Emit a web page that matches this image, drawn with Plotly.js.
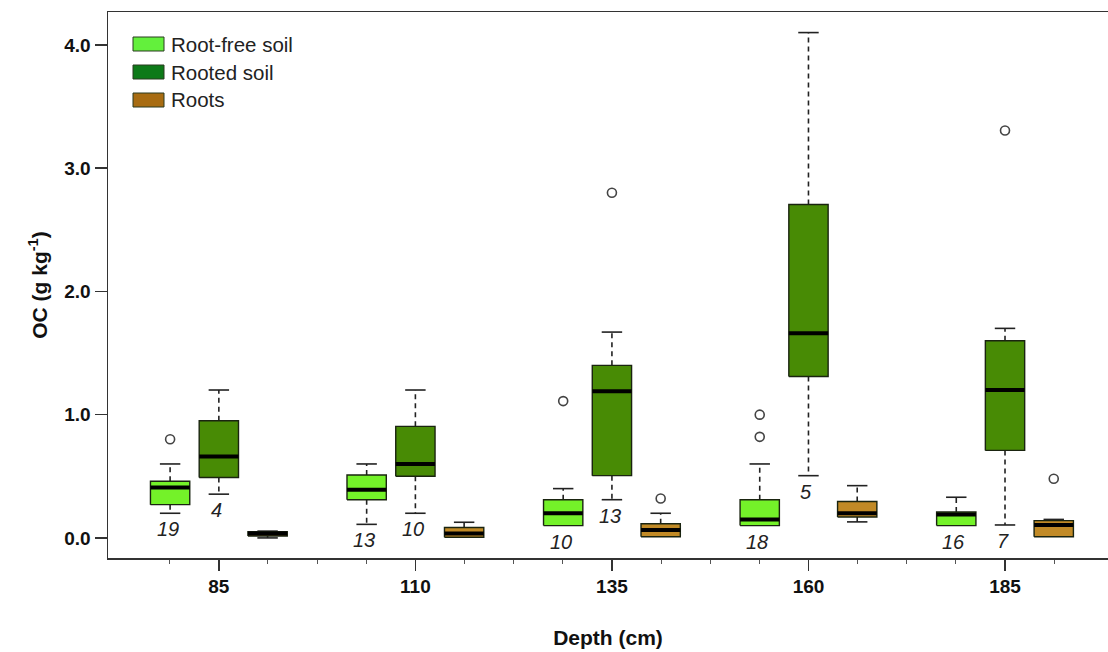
<!DOCTYPE html>
<html>
<head>
<meta charset="utf-8">
<script src="https://cdn.plot.ly/plotly-3.0.1.min.js"></script>
<style>html,body{margin:0;padding:0;background:#fff;}#chart{width:1108px;height:652px;}</style>
</head>
<body>
<div id="chart"></div>
<script>
// ---- data ----
const depths = [85, 110, 135, 160, 185];
const seriesNames = ["Root-free soil", "Rooted soil", "Roots"];

const rootFreeLower  = [0.20, 0.11, 0.10, 0.10, 0.10];
const rootFreeQ1     = [0.27, 0.31, 0.10, 0.10, 0.10];
const rootFreeMedian = [0.41, 0.39, 0.20, 0.15, 0.19];
const rootFreeQ3     = [0.46, 0.51, 0.31, 0.31, 0.21];
const rootFreeUpper  = [0.60, 0.60, 0.40, 0.60, 0.33];
const rootFreeOutliers = [[0.80], [], [1.11], [1.00, 0.82], []];
const rootFreeN = [19, 13, 10, 18, 16];

const rootedLower  = [0.355, 0.20, 0.31, 0.505, 0.105];
const rootedQ1     = [0.49, 0.50, 0.505, 1.31, 0.71];
const rootedMedian = [0.66, 0.60, 1.19, 1.66, 1.20];
const rootedQ3     = [0.95, 0.905, 1.40, 2.705, 1.60];
const rootedUpper  = [1.20, 1.20, 1.67, 4.10, 1.70];
const rootedOutliers = [[], [], [2.80], [], [3.305]];
const rootedN = [4, 10, 13, 5, 7];

const rootsLower  = [0.00, 0.005, 0.01, 0.13, 0.01];
const rootsQ1     = [0.015, 0.005, 0.01, 0.17, 0.01];
const rootsMedian = [0.035, 0.035, 0.065, 0.20, 0.105];
const rootsQ3     = [0.05, 0.085, 0.115, 0.295, 0.14];
const rootsUpper  = [0.055, 0.127, 0.20, 0.424, 0.15];
const rootsOutliers = [[], [], [0.32], [], [0.48]];

const yTickVals = [0, 1, 2, 3, 4];
const xTickVals = [85, 110, 135, 160, 185];
const xMinorTickVals = [78.75, 91.25, 97.5, 103.75, 116.25, 122.5, 128.75, 141.25, 147.5, 153.75,
  166.25, 172.5, 178.75, 191.25];

// ---- styles ----
const boxFill   = ["#74f229", "#488b05", "#c18a26"];
const legendFill = ["#63f03c", "#0d7a18", "#a86c12"];
const offsets = [-6.2, 0, 6.2];
const halfW = 2.5;
const capHalf = 1.3;
const FONT = 'Liberation Sans, Arial, sans-serif';

const seriesData = [
  {lower: rootFreeLower, q1: rootFreeQ1, med: rootFreeMedian, q3: rootFreeQ3, upper: rootFreeUpper, out: rootFreeOutliers, n: rootFreeN},
  {lower: rootedLower, q1: rootedQ1, med: rootedMedian, q3: rootedQ3, upper: rootedUpper, out: rootedOutliers, n: rootedN},
  {lower: rootsLower, q1: rootsQ1, med: rootsMedian, q3: rootsQ3, upper: rootsUpper, out: rootsOutliers, n: null}
];

const traces = [];
const annotations = [];
const shapes = [];

seriesData.forEach((s, si) => {
  const bx = [], by = [], mx = [], my = [], wx = [], wy = [], cx = [], cy = [], ox = [], oy = [];
  depths.forEach((d, i) => {
    const c = d + offsets[si];
    if (s.upper[i] > s.q3[i]) { wx.push(c, c, null); wy.push(s.q3[i], s.upper[i], null);
      cx.push(c - capHalf, c + capHalf, null); cy.push(s.upper[i], s.upper[i], null); }
    if (s.lower[i] < s.q1[i]) { wx.push(c, c, null); wy.push(s.q1[i], s.lower[i], null);
      cx.push(c - capHalf, c + capHalf, null); cy.push(s.lower[i], s.lower[i], null); }
    bx.push(c - halfW, c + halfW, c + halfW, c - halfW, c - halfW, null);
    by.push(s.q1[i], s.q1[i], s.q3[i], s.q3[i], s.q1[i], null);
    mx.push(c - halfW, c + halfW, null); my.push(s.med[i], s.med[i], null);
    s.out[i].forEach(v => { ox.push(c); oy.push(v); });
    if (s.n) {
      annotations.push({x: c - 0.3, y: s.lower[i], xref: 'x', yref: 'y', text: String(s.n[i]),
        showarrow: false, yanchor: 'middle', yshift: -16,
        font: {family: FONT, size: 20, color: '#222', style: 'italic'}});
    }
  });
  traces.push({x: wx, y: wy, mode: 'lines', type: 'scatter', showlegend: false, hoverinfo: 'skip',
    line: {color: '#222', width: 1.6, dash: '5px,4px'}});
  traces.push({x: cx, y: cy, mode: 'lines', type: 'scatter', showlegend: false, hoverinfo: 'skip',
    line: {color: '#222', width: 1.6}});
  traces.push({x: bx, y: by, mode: 'lines', type: 'scatter', fill: 'toself', fillcolor: boxFill[si],
    showlegend: false, name: seriesNames[si], line: {color: '#1a2410', width: 1.4}});
  traces.push({x: mx, y: my, mode: 'lines', type: 'scatter', showlegend: false, hoverinfo: 'skip',
    line: {color: '#000', width: 4}});
  traces.push({x: ox, y: oy, mode: 'markers', type: 'scatter', showlegend: false,
    marker: {symbol: 'circle-open', size: 9, color: '#444', line: {width: 1.6, color: '#444'}}});
});

// manual legend (paper coords)
const W = 1108, H = 652, ml = 108, mr = 0, mt = 12, mb = 94;
const pw = W - ml - mr, ph = H - mt - mb;
function px2paperX(p) { return (p - ml) / pw; }
function px2paperY(p) { return 1 - (p - mt) / ph; }
seriesNames.forEach((name, si) => {
  const cyPx = 44 + si * 28;
  shapes.push({type: 'rect', xref: 'paper', yref: 'paper',
    x0: px2paperX(133), x1: px2paperX(164), y0: px2paperY(cyPx - 7), y1: px2paperY(cyPx + 7),
    fillcolor: legendFill[si], line: {color: '#2a3a20', width: 1}});
  annotations.push({xref: 'paper', yref: 'paper', x: px2paperX(169), y: px2paperY(cyPx),
    xanchor: 'left', yanchor: 'middle', text: name, showarrow: false,
    font: {family: FONT, size: 20.5, color: '#222'}});
});

const layout = {
  width: W, height: H,
  margin: {l: ml, r: mr, t: mt, b: mb},
  paper_bgcolor: '#fff', plot_bgcolor: '#fff',
  showlegend: false,
  font: {family: FONT, color: '#111'},
  xaxis: {
    range: [70.9, 198.1], showgrid: false, zeroline: false,
    showline: true, linecolor: '#333', linewidth: 1.5, mirror: true,
    tickmode: 'array', tickvals: xTickVals, ticktext: xTickVals.map(String),
    ticks: 'outside', ticklen: 11, tickwidth: 1.5, tickcolor: '#333',
    tickfont: {size: 19, color: '#111', weight: 'bold'},
    minor: {tickmode: 'array', tickvals: xMinorTickVals, ticks: 'outside', ticklen: 4, tickwidth: 1, tickcolor: '#555', showgrid: false},
    title: {text: '<b>Depth (cm)</b>', font: {size: 21, color: '#111'}, standoff: 34}
  },
  yaxis: {
    range: [-0.163, 4.267], showgrid: false, zeroline: false,
    showline: true, linecolor: '#333', linewidth: 1.5,
    tickmode: 'array', tickvals: yTickVals, ticktext: yTickVals.map(v => v.toFixed(1)),
    ticks: 'outside', ticklen: 12, tickwidth: 1.5, tickcolor: '#333',
    tickfont: {size: 19, color: '#111', weight: 'bold'},
    title: {text: '<b>OC (g kg<sup>-1</sup>)</b>', font: {size: 21, color: '#111'}, standoff: 11}
  },
  annotations: annotations,
  shapes: shapes
};

Plotly.newPlot('chart', traces, layout, {displayModeBar: false, staticPlot: true});
</script>
</body>
</html>
